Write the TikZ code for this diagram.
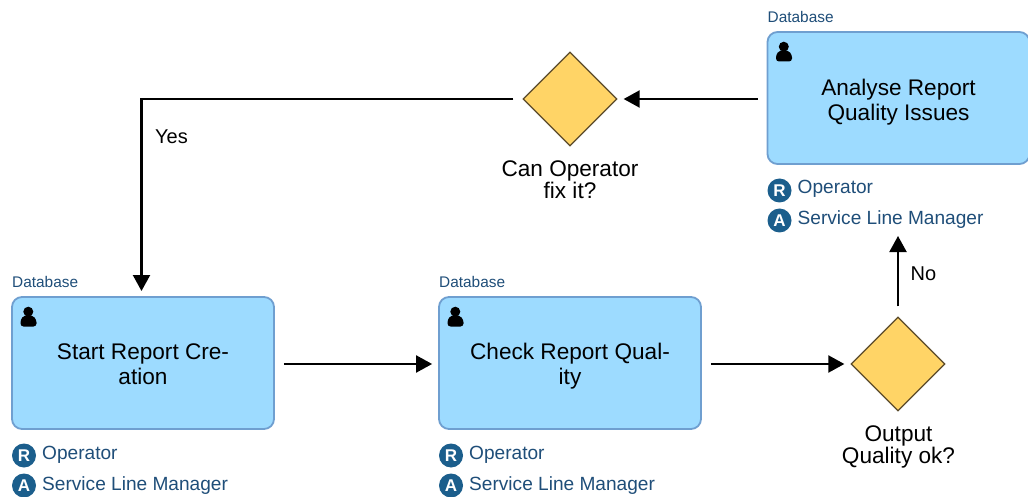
\documentclass[tikz,border=0pt]{standalone}
\usepackage{fontspec}
\setmainfont{Liberation Sans}
\usetikzlibrary{arrows.meta,shapes.geometric}
\definecolor{taskfill}{HTML}{9DDBFF}
\definecolor{taskline}{HTML}{6F9FD0}
\definecolor{gatefill}{HTML}{FFD466}
\definecolor{gateline}{HTML}{5A4A2A}
\definecolor{roleblue}{HTML}{1F4E79}
\definecolor{badge}{HTML}{1B5E8C}
\tikzset{
  x=1pt,y=-1pt,
  taskbox/.style={draw=taskline,fill=taskfill,line width=1.8pt,rounded corners=10pt,minimum width=262pt,minimum height=132pt,inner sep=0pt,align=center},
  tasktext/.style={font=\fontsize{22.6}{25.5}\selectfont,align=center,text=black,inner sep=0pt},
  gate/.style={diamond,draw=gateline,fill=gatefill,line width=1.3pt,minimum width=94pt,minimum height=94pt,inner sep=0pt},
  gatetext/.style={font=\fontsize{22.6}{22}\selectfont,align=center,inner sep=0pt,text=black},
  dbtext/.style={font=\fontsize{15.4}{18}\selectfont,text=roleblue,inner sep=0pt,anchor=base west},
  roletext/.style={font=\fontsize{19.1}{22}\selectfont,text=roleblue,inner sep=0pt,anchor=base west},
  rolebadge/.style={circle,fill=badge,text=white,font=\fontsize{17}{17}\selectfont\bfseries,minimum size=24pt,inner sep=0pt},
  flow/.style={line width=2.1pt,draw=black,-{Triangle[length=16pt,width=17pt]}},
  edgetext/.style={font=\fontsize{20}{22}\selectfont,inner sep=0pt,text=black,anchor=base west},
}
\newcommand{\TaskBox}[5]{% name, left x, top y, text, text centre offset
  \node[taskbox] (#1) at (#2+131,#3+66) {};
  \node[tasktext] (#1text) at (#2+131,#3+#5) {#4};
  \node[dbtext] (#1db) at (#2,#3-9.5) {Database};
  \fill[black] (#2+16.3,#3+14.7) circle (5);
  \fill[black,rounded corners=3pt] (#2+8.5,#3+29.5) -- (#2+8.5,#3+22.5) -- (#2+12,#3+18.5) -- (#2+20.6,#3+18.5) -- (#2+24.5,#3+22.5) -- (#2+24.5,#3+29.5) -- cycle;
  \node[rolebadge] (#1r) at (#2+12,#3+158.5) {\raisebox{-0.5pt}{R}};
  \node[rolebadge] (#1a) at (#2+12,#3+188.5) {\raisebox{-0.5pt}{A}};
  \node[roletext] (#1rt) at (#2+30,#3+162) {Operator};
  \node[roletext] (#1at) at (#2+30,#3+193) {Service Line Manager};
}
\begin{document}
\begin{tikzpicture}
\path[use as bounding box,clip] (0,0) rectangle (1028,497);
\fill[white] (0,0) rectangle (1028,497);
\TaskBox{start}{12}{297}{Start Report Cre-\\ation}{67}
\TaskBox{check}{439}{297}{Check Report Qual-\\ity}{69}
\TaskBox{analyse}{767.5}{32}{Analyse Report\\Quality Issues}{70}
\node[gate] (fix) at (570,99) {};
\node[gate] (ok) at (898,364) {};
\node[gatetext] (fixtext) at (570,179.5) {Can Operator\\fix it?};
\node[gatetext] (oktext) at (898.5,446.5) {Output\\Quality ok?};
\coordinate (corner) at (141.5,99);
\coordinate (startin) at (141.5,291);
\coordinate (noend) at (898,236);
\draw[flow,shorten <=9pt,shorten >=6pt] (start.east |- 0,364) -- (check.west |- 0,364);
\draw[flow,shorten <=9pt,shorten >=6pt] (check.east |- 0,364) -- (ok.west);
\draw[flow,shorten <=10pt] (ok.north) -- (noend);
\draw[flow,shorten <=9pt,shorten >=6pt] (analyse.west |- fix.east) -- (fix.east);
\draw[flow,shorten <=9pt,rounded corners=0pt] (fix.west) -- (corner) -- (startin);
\node[edgetext] (yes) at (155,144) {Yes};
\node[edgetext] (no) at (910.5,280) {No};
\end{tikzpicture}
\end{document}
